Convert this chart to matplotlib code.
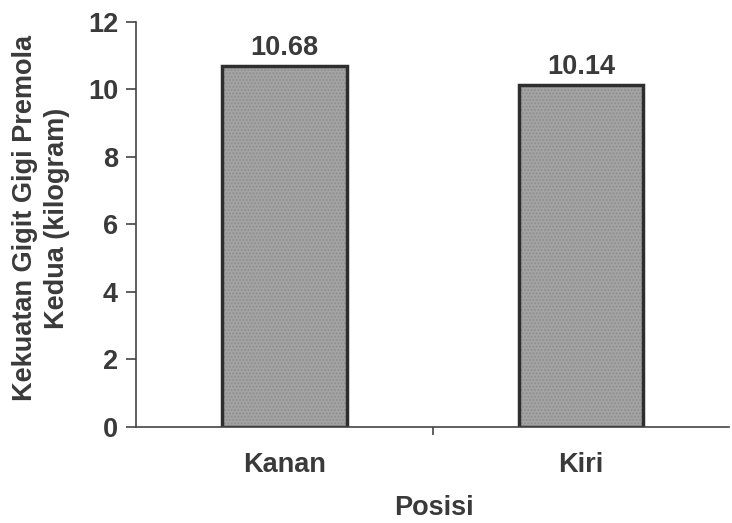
import numpy as np
import matplotlib.pyplot as plt

# data
posisi = ["Kanan", "Kiri"]
kekuatan = [10.68, 10.14]
label_nilai = ["10.68", "10.14"]
y_ticks = [0, 2, 4, 6, 8, 10, 12]

plt.rcParams['font.family'] = ['Liberation Sans', 'DejaVu Sans']
plt.rcParams['font.weight'] = 'bold'
warna_teks = '#3a3a3a'
fs = 19.5

fig = plt.figure(figsize=(7.32, 5.23), dpi=100)
ax = fig.add_axes([0.186, 0.184, 0.81, 0.774])

x = np.arange(len(posisi))
bars = ax.bar(x, kekuatan, width=0.42, color='#a4a4a4', edgecolor='#2e2e2e',
              linewidth=2.5, hatch='.....', zorder=2)
for b in bars:
    b._hatch_color = (0.56, 0.56, 0.56, 1.0)

for xi, v, t in zip(x, kekuatan, label_nilai):
    ax.text(xi, v + 0.33, t, ha='center', va='baseline', fontsize=fs,
            fontweight='bold', color=warna_teks)

ax.set_xlim(-0.5, 1.5)
ax.set_ylim(0, 12)
ax.set_yticks(y_ticks)
ax.set_yticklabels([str(t) for t in y_ticks], fontsize=fs, fontweight='bold',
                   color=warna_teks)

# x tick only between categories, labels placed at bar centers
ax.set_xticks([0.5])
ax.set_xticklabels([''])
ax.set_xticks(x, minor=True)
ax.set_xticklabels(posisi, minor=True, fontsize=fs, fontweight='bold',
                   color=warna_teks)
ax.tick_params(axis='x', which='minor', length=0, pad=18)
ax.tick_params(axis='x', which='major', length=6, width=1.2, color='#444444')
ax.tick_params(axis='y', length=7, width=1.2, color='#444444', pad=6)

ax.spines['top'].set_visible(False)
ax.spines['right'].set_visible(False)
ax.spines['left'].set_color('#444444')
ax.spines['bottom'].set_color('#444444')
ax.spines['left'].set_linewidth(1.2)
ax.spines['bottom'].set_linewidth(1.2)

fig.text(0.593, 0.029, "Posisi", ha='center', va='center', fontsize=fs,
         fontweight='bold', color=warna_teks)
fig.text(0.056, 0.583, "Kekuatan Gigit Gigi Premola\nKedua (kilogram)",
         ha='center', va='center', rotation=90, fontsize=fs,
         fontweight='bold', color=warna_teks, linespacing=1.3)

fig.savefig("out.png", dpi=100)
